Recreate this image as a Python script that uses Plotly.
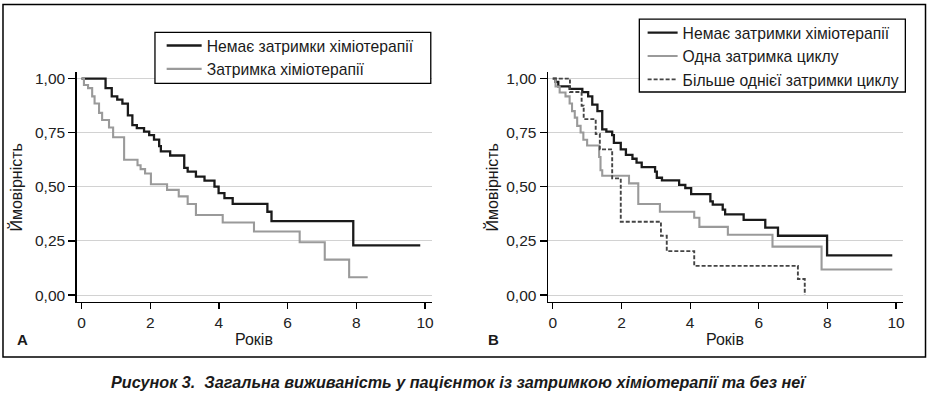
import plotly.graph_objects as go

# ---------------- data ----------------
# Panel A
a_no_delay_t = [0, 0.70, 0.88, 1.04, 1.19, 1.35, 1.48, 1.61, 1.82, 1.97, 2.11, 2.26, 2.31, 2.58,
                2.99, 3.09, 3.33, 3.58, 3.87, 3.99, 4.16, 4.40, 5.41, 5.53, 7.91, 9.86]
a_no_delay_s = [1.0, 0.956, 0.918, 0.903, 0.885, 0.83, 0.785, 0.771, 0.755, 0.739, 0.718, 0.688, 0.664, 0.645,
                0.588, 0.570, 0.547, 0.529, 0.501, 0.471, 0.448, 0.421, 0.385, 0.342, 0.23, 0.23]

a_delay_t = [0, 0.07, 0.19, 0.31, 0.38, 0.51, 0.60, 0.80, 0.92, 1.24, 1.63, 1.72, 1.85, 2.02,
             2.49, 2.83, 3.09, 3.33, 4.11, 5.02, 6.35, 7.08, 7.79, 8.33]
a_delay_s = [1.0, 0.971, 0.956, 0.918, 0.885, 0.842, 0.809, 0.774, 0.729, 0.625, 0.60, 0.582, 0.562, 0.512,
             0.486, 0.456, 0.421, 0.37, 0.335, 0.294, 0.244, 0.164, 0.082, 0.082]

# Panel B
b_no_delay_t = [0, 0.08, 0.16, 0.49, 0.86, 1.03, 1.15, 1.30, 1.44, 1.56, 1.73, 1.78, 1.98, 2.13, 2.32,
                2.44, 2.59, 2.98, 3.03, 3.18, 3.68, 3.86, 4.03, 4.59, 4.66, 4.95, 5.02, 5.56, 6.19,
                6.56, 7.99, 9.89]
b_no_delay_s = [1.0, 0.985, 0.964, 0.953, 0.938, 0.918, 0.88, 0.85, 0.766, 0.755, 0.739, 0.703, 0.673, 0.648, 0.63,
                0.612, 0.591, 0.57, 0.542, 0.53, 0.509, 0.494, 0.466, 0.433, 0.418, 0.395, 0.373, 0.347, 0.312,
                0.274, 0.183, 0.183]

b_one_t = [0, 0.08, 0.20, 0.37, 0.49, 0.56, 0.64, 0.71, 0.81, 0.89, 1.0, 1.35, 1.39, 1.44, 2.22,
           2.49, 3.12, 4.12, 4.27, 5.10, 6.40, 7.83, 9.89]
b_one_s = [1.0, 0.964, 0.936, 0.918, 0.885, 0.85, 0.82, 0.782, 0.751, 0.718, 0.691, 0.638, 0.577, 0.551, 0.516,
           0.421, 0.385, 0.357, 0.315, 0.279, 0.224, 0.118, 0.118]

b_more_t = [0, 0.50, 0.84, 0.90, 1.25, 1.37, 1.73, 1.98, 3.15, 3.32, 4.12, 7.14, 7.34]
b_more_s = [1.0, 0.938, 0.875, 0.813, 0.744, 0.673, 0.539, 0.339, 0.274, 0.203, 0.135, 0.074, 0.0]

x_ticks = [0, 2, 4, 6, 8, 10]
y_ticks = [0, 0.25, 0.5, 0.75, 1.0]
y_tick_labels = ["0,00", "0,25", "0,50", "0,75", "1,00"]

names_a = ["Немає затримки хіміотерапії", "Затримка хіміотерапії"]
names_b = ["Немає затримки хіміотерапії", "Одна затримка циклу", "Більше однієї затримки циклу"]

x_title = "Років"
y_title = "Ймовірність"
caption = "Рисунок 3.  Загальна виживаність у пацієнток із затримкою хіміотерапії та без неї"

# ---------------- figure ----------------
W, H = 933, 394
FONT = "Liberation Sans, Arial, sans-serif"
BLACK = "#1a1a1a"
GRAY = "#9a9a9a"
DASH = "#444444"

fig = go.Figure()

fig.add_trace(go.Scatter(x=a_no_delay_t, y=a_no_delay_s, mode="lines", line_shape="hv",
                         line=dict(color=BLACK, width=2.3), name=names_a[0],
                         xaxis="x", yaxis="y", legend="legend"))
fig.add_trace(go.Scatter(x=a_delay_t, y=a_delay_s, mode="lines", line_shape="hv",
                         line=dict(color=GRAY, width=2.1), name=names_a[1],
                         xaxis="x", yaxis="y", legend="legend"))

fig.add_trace(go.Scatter(x=b_no_delay_t, y=b_no_delay_s, mode="lines", line_shape="hv",
                         line=dict(color=BLACK, width=2.3), name=names_b[0],
                         xaxis="x2", yaxis="y2", legend="legend2"))
fig.add_trace(go.Scatter(x=b_one_t, y=b_one_s, mode="lines", line_shape="hv",
                         line=dict(color=GRAY, width=2.1), name=names_b[1],
                         xaxis="x2", yaxis="y2", legend="legend2"))
fig.add_trace(go.Scatter(x=b_more_t, y=b_more_s, mode="lines", line_shape="hv",
                         line=dict(color=DASH, width=1.9, dash="4px,2px"), name=names_b[2],
                         xaxis="x2", yaxis="y2", legend="legend2"))

y_dom = [1 - 302.3 / H, 1 - 70.7 / H]
xa_dom = [76.7 / W, 432.7 / W]
xb_dom = [549.0 / W, 904.7 / W]
x_rng = [-0.145, 10.195]
y_rng = [-0.032, 1.030]

common_x = dict(range=x_rng, tickvals=x_ticks, ticks="outside", ticklen=6, tickwidth=1.2,
                tickcolor="black", showline=True, linecolor="black", linewidth=1.3,
                showgrid=False, zeroline=False, tickfont=dict(size=15.5, color="#222"),
                fixedrange=True)
common_y = dict(range=y_rng, tickvals=y_ticks, ticktext=y_tick_labels, ticks="outside",
                ticklen=7, tickwidth=1.2, tickcolor="black", showline=True, linecolor="black",
                linewidth=1.3, showgrid=True, gridcolor="#d2d2d2", gridwidth=1, zeroline=False,
                tickfont=dict(size=15.5, color="#222"), fixedrange=True)

legend_common = dict(bgcolor="rgba(0,0,0,0)", borderwidth=0,
                     font=dict(size=15.7, color="#1a1a1a", family=FONT),
                     xanchor="left", yanchor="top", orientation="v", traceorder="normal")

fig.update_layout(
    width=W, height=H, margin=dict(l=0, r=0, t=0, b=0),
    paper_bgcolor="white", plot_bgcolor="white",
    font=dict(family=FONT, color="#1a1a1a"),
    showlegend=True,
    xaxis=dict(domain=xa_dom, anchor="y", **common_x),
    yaxis=dict(domain=y_dom, anchor="x", **common_y),
    xaxis2=dict(domain=xb_dom, anchor="y2", **common_x),
    yaxis2=dict(domain=y_dom, anchor="x2", **common_y),
    legend=dict(x=162 / W, y=1 - 27.0 / H, itemwidth=35, **legend_common),
    legend2=dict(x=644 / W, y=1 - 14.0 / H, itemwidth=30, **legend_common),
)

# outer frame
fig.add_shape(type="rect", xref="paper", yref="paper",
              x0=3 / W, x1=927.5 / W, y0=1 - 357.7 / H, y1=1 - 2.5 / H,
              line=dict(color="black", width=1.5), fillcolor="rgba(0,0,0,0)", layer="below")
# legend frames (white boxes behind legend entries)
fig.add_shape(type="rect", xref="paper", yref="paper",
              x0=155.3 / W, x1=431.7 / W, y0=1 - 82.0 / H, y1=1 - 30.7 / H,
              line=dict(color="black", width=1.3), fillcolor="white", layer="above")
fig.add_shape(type="rect", xref="paper", yref="paper",
              x0=640.7 / W, x1=907.3 / W, y0=1 - 90.7 / H, y1=1 - 17.3 / H,
              line=dict(color="black", width=1.3), fillcolor="white", layer="above")

ann = []
# axis titles
for xd in ["x domain", "x2 domain"]:
    ann.append(dict(text=x_title, xref=xd, x=0.5, yref="paper", y=1 - 340 / H,
                    showarrow=False, font=dict(size=16), xanchor="center", yanchor="middle"))
for xp in [16.5, 493.5]:
    ann.append(dict(text=y_title, xref="paper", x=xp / W, yref="paper", y=1 - 186.5 / H,
                    textangle=-90, showarrow=False, font=dict(size=16),
                    xanchor="center", yanchor="middle"))
# panel letters
ann.append(dict(text="<b>A</b>", xref="paper", x=22.5 / W, yref="paper", y=1 - 340 / H,
                showarrow=False, font=dict(size=15), xanchor="center", yanchor="middle"))
ann.append(dict(text="<b>B</b>", xref="paper", x=495 / W, yref="paper", y=1 - 340 / H,
                showarrow=False, font=dict(size=15), xanchor="center", yanchor="middle"))
# caption
ann.append(dict(text="<b><i>" + caption + "</i></b>", xref="paper", x=460 / W,
                yref="paper", y=1 - 382.5 / H, showarrow=False, font=dict(size=16.2),
                xanchor="center", yanchor="middle"))
fig.update_layout(annotations=ann)

fig.write_html("out.html", post_script="document.body.style.margin='0px';",
               config={"displayModeBar": False, "staticPlot": True})
